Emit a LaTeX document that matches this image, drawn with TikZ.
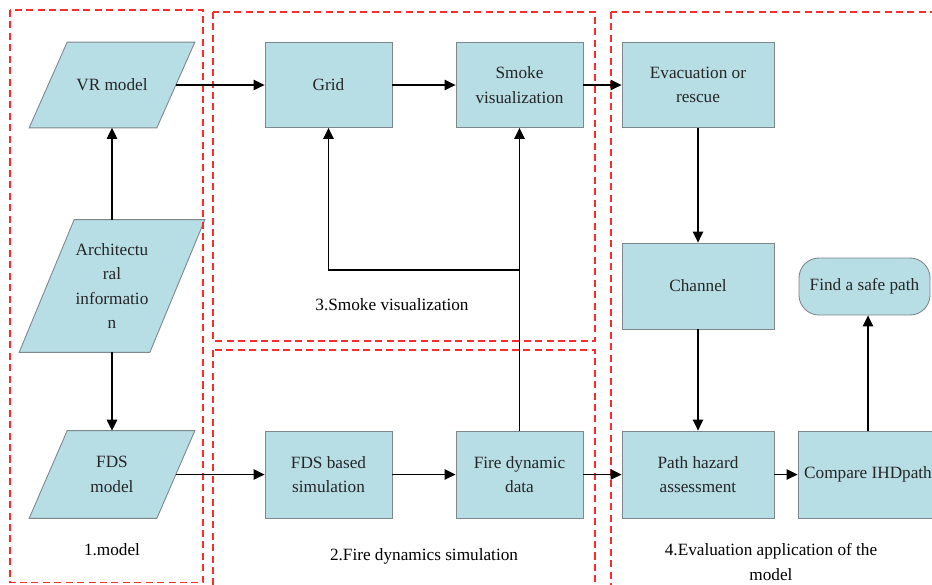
\documentclass[tikz,border=0pt]{standalone}
\usepackage{fontspec}
\setmainfont{Liberation Serif}
\usetikzlibrary{arrows.meta, positioning, calc, backgrounds}
\definecolor{cajaazul}{RGB}{183, 221, 229}
\definecolor{bordegris}{RGB}{125, 135, 140}
\definecolor{rojozona}{RGB}{250, 45, 45}

\begin{document}
\begin{tikzpicture}[
        font=\fontsize{9.8}{14}\selectfont,
        caja/.style={
            draw=bordegris,
            fill=cajaazul,
            line width=0.5pt,
            minimum width=2.54cm,
            minimum height=1.7cm,
            align=center,
            text=black!85
        },
        datos/.style={
            minimum width=2.54cm,
            minimum height=1.7cm,
            inner sep=0pt,
            align=center,
            text=black!85
        },
        flecha/.style={-{Triangle[length=2.2mm, width=2.1mm]}, line width=0.7pt},
        zona/.style={draw=rojozona, line width=0.8pt, dash pattern=on 4pt off 2.5pt}
    ]
    \useasboundingbox (0,0) rectangle (18.64,-11.68);

    % zonas
    \draw[zona] (0.2,-0.2) rectangle (4.06,-11.65);
    \draw[zona] (4.26,-0.24) rectangle (11.9,-6.82);
    \draw[zona] (4.26,-7.0) rectangle (11.9,-11.9);
    \draw[zona] (12.22,-0.24) rectangle (18.9,-11.9);

    % modelo
    \node[datos] (vr) at (2.24,-1.7) {VR model};
    \node[datos, minimum width=2.6cm, minimum height=2.64cm] (arq) at (2.24,-5.72)
        {Architectu\\ral\\informatio\\n};
    \node[datos, minimum height=1.74cm] (fds) at (2.24,-9.49) {FDS\\model};
    \begin{scope}[on background layer]
        \foreach \n/\d in {vr/0.38, arq/0.55, fds/0.38} {
            \filldraw[draw=bordegris, fill=cajaazul, line width=0.5pt]
                ($(\n.south west)+(-\d,0)$) -- ($(\n.south east)+(-\d,0)$)
                -- ($(\n.north east)+(\d,0)$) -- ($(\n.north west)+(\d,0)$) -- cycle;
        }
    \end{scope}

    % humo y simulacion
    \node[caja] (rejilla) at (6.57,-1.7) {Grid};
    \node[caja] (humo) at (10.39,-1.7) {Smoke\\visualization};
    \node[caja, minimum height=1.74cm] (sim) at (6.57,-9.49) {FDS based\\simulation};
    \node[caja, minimum height=1.74cm] (fuego) at (10.39,-9.49) {Fire dynamic\\data};

    % evaluacion
    \node[caja, minimum width=3.04cm] (evac) at (13.96,-1.7) {Evacuation or\\rescue};
    \node[caja, minimum width=3.04cm, minimum height=1.72cm] (canal) at (13.96,-5.72) {Channel};
    \node[caja, minimum width=3.04cm, minimum height=1.74cm] (riesgo) at (13.96,-9.49) {Path hazard\\assessment};
    \node[caja, minimum width=2.8cm, minimum height=1.74cm] (comparar) at (17.36,-9.49) {Compare IHDpath};
    \node[caja, rounded corners=0.4cm, minimum width=2.62cm, minimum height=1.14cm]
        (seguro) at (17.29,-5.73) {Find a safe path};

    % etiquetas
    \node (t1) at (2.24,-11.0) {1.model};
    \node (t3) at (7.84,-6.1) {3.Smoke visualization};
    \node (t2) at (8.48,-11.12) {2.Fire dynamics simulation};
    \node[align=center] (t4) at (15.42,-11.24) {4.Evaluation application of the\\model};

    % flechas
    \draw[flecha] (arq) -- (vr);
    \draw[flecha] (arq) -- (fds);
    \draw[flecha] (vr) -- (rejilla);
    \draw[flecha] (rejilla) -- (humo);
    \draw[flecha] (humo) -- (evac);
    \draw[flecha] (fds) -- (sim);
    \draw[flecha] (sim) -- (fuego);
    \draw[flecha] (fuego) -- (riesgo);
    \draw[flecha] (fuego) -- (humo);
    \coordinate (cruce) at (10.39,-5.4);
    \draw[flecha] (cruce) -| (rejilla.south);
    \draw[flecha] (evac) -- (canal);
    \draw[flecha] (canal) -- (riesgo);
    \draw[flecha] (riesgo) -- (comparar);
    \draw[flecha] (comparar.north) -- (comparar.north |- seguro.south);
\end{tikzpicture}
\end{document}
